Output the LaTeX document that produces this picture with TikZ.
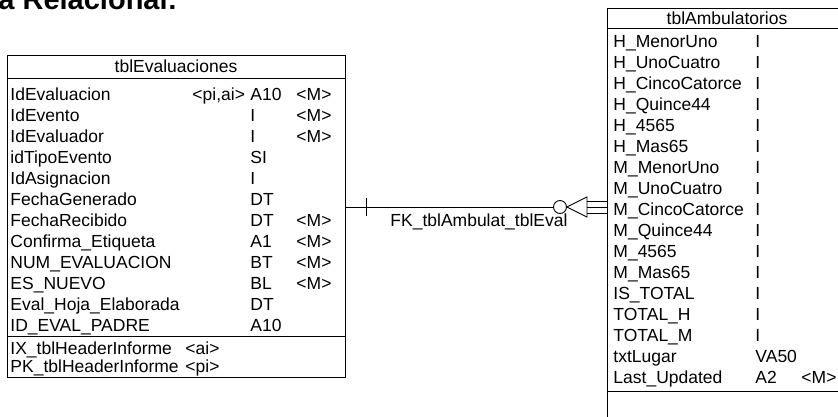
\documentclass[tikz,border=0pt]{standalone}
\usepackage{fontspec}
\setmainfont{Liberation Sans}
\usetikzlibrary{arrows.meta,positioning,calc}
\begin{document}
\begin{tikzpicture}[x=1pt,y=-1pt,line width=.9pt,font=\fontsize{17.5}{21}\selectfont,
  tbl/.style={draw,inner sep=0pt,anchor=north west},
  fld/.style={anchor=base west,inner sep=0pt}]
 \useasboundingbox (0,0) rectangle (838,416);
 \node[fld,font=\fontsize{29}{34}\bfseries\selectfont] (hd) at (-2,9) {a Relacional:};
 \node[tbl,minimum width=338pt,minimum height=322pt] (ev) at (7,55) {};
 \node (evh) at (176,66) {tblEvaluaciones};
 \draw (ev.west |- 0,78) -- (ev.east |- 0,78);
 \draw (ev.west |- 0,336) -- (ev.east |- 0,336);
 \foreach \n [count=\i from 0] in {IdEvaluacion,IdEvento,IdEvaluador,idTipoEvento,IdAsignacion,
   FechaGenerado,FechaRecibido,Confirma\_Etiqueta,NUM\_EVALUACION,ES\_NUEVO,Eval\_Hoja\_Elaborada,ID\_EVAL\_PADRE}
  \node[fld] (evn\i) at (10,100+21*\i) {\n};
 \foreach \i/\t in {0/A10,1/I,2/I,3/SI,4/I,5/DT,6/DT,7/A1,8/BT,9/BL,10/DT,11/A10}
  \node[fld] (evt\i) at (250,100+21*\i) {\t};
 \foreach \i in {0,1,2,6,7,8,9} \node[fld] (evm\i) at (296,100+21*\i) {<M>};
 \node[fld] (evk) at (192,100) {<pi,ai>};
 \node[fld] (ix) at (10,354) {IX\_tblHeaderInforme};
 \node[fld] (ixk) at (185,354) {<ai>};
 \node[fld] (pk) at (10,372) {PK\_tblHeaderInforme};
 \node[fld] (pkk) at (185,372) {<pi>};
 \node[tbl,minimum width=243pt,minimum height=430pt] (am) at (607,8) {};
 \node (amh) at (727,18) {tblAmbulatorios};
 \draw (am.west |- 0,28) -- (am.east |- 0,28);
 \draw (am.west |- 0,391) -- (am.east |- 0,391);
 \foreach \n [count=\i from 0] in {H\_MenorUno,H\_UnoCuatro,H\_CincoCatorce,H\_Quince44,H\_4565,H\_Mas65,
   M\_MenorUno,M\_UnoCuatro,M\_CincoCatorce,M\_Quince44,M\_4565,M\_Mas65,IS\_TOTAL,TOTAL\_H,TOTAL\_M,txtLugar,Last\_Updated}
  \node[fld] (amn\i) at (613,47+21*\i) {\n};
 \foreach \i in {0,...,14} \node[fld] (amt\i) at (755,47+21*\i) {I};
 \node[fld] (amt15) at (755,362) {VA50};
 \node[fld] (amt16) at (755,383) {A2};
 \node[fld] (amm16) at (801,383) {<M>};
 \node[circle,draw,minimum size=13pt,inner sep=0pt] (op) at (560,207) {};
 \draw (ev.east |- op) -- (op);
 \draw ($(ev.east |- op)+(21,-9)$) -- ++(0,18);
 \draw (op.east) -- ++(20,-10) -- ++(0,20) -- cycle;
 \foreach \d in {-6,0,6} \draw ($(op.east)+(20,\d)$) -- (am.west |- 0,207+\d);
 \node[fld] (fk) at (390,226) {FK\_tblAmbulat\_tblEval};
\end{tikzpicture}
\end{document}
